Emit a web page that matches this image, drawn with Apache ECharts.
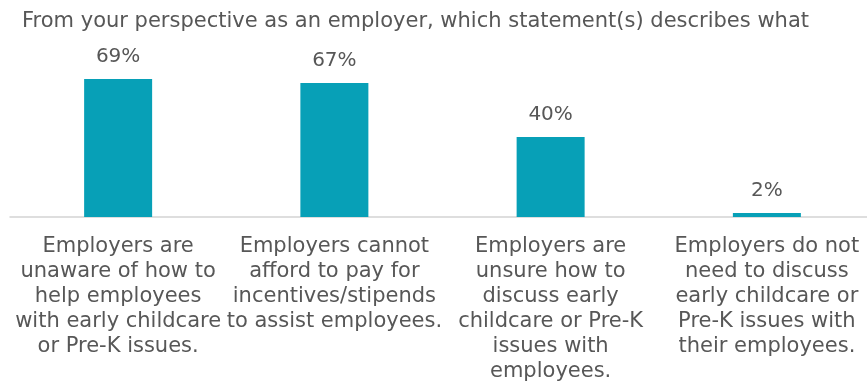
<!DOCTYPE html>
<html>
<head>
<meta charset="utf-8">
<script src="https://cdn.jsdelivr.net/npm/echarts@6/dist/echarts.min.js"></script>
<style>
  html, body { margin: 0; padding: 0; background: #ffffff; overflow: hidden; }
  #chart { width: 875px; height: 386px; }
</style>
</head>
<body>
<div id="chart"></div>
<script>
// Survey responses: share of employers choosing each statement
const titleText = 'From your perspective as an employer, which statement(s) describes what';
const categories = [
  'Employers are\nunaware of how to\nhelp employees\nwith early childcare\nor Pre-K issues.',
  'Employers cannot\nafford to pay for\nincentives/stipends\nto assist employees.',
  'Employers are\nunsure how to\ndiscuss early\nchildcare or Pre-K\nissues with\nemployees.',
  'Employers do not\nneed to discuss\nearly childcare or\nPre-K issues with\ntheir employees.'
];
const percentages = [69, 67, 40, 2];

const FONT = 'DejaVu Sans';
const TEXT_COLOR = '#575757';
const chart = echarts.init(document.getElementById('chart'), null, { renderer: 'canvas' });
chart.setOption({
  animation: false,
  title: {
    text: titleText,
    left: 17,
    top: 6,
    textStyle: { fontFamily: FONT, fontSize: 21, fontWeight: 'normal', color: TEXT_COLOR }
  },
  grid: { left: 10, top: 17, right: 0, height: 200, containLabel: false },
  xAxis: {
    type: 'category',
    data: categories,
    axisLine: { show: true, lineStyle: { color: '#d4d4d4', width: 1.5 } },
    axisTick: { show: false },
    axisLabel: {
      interval: 0,
      margin: 17,
      fontFamily: FONT,
      fontSize: 21,
      lineHeight: 25,
      color: TEXT_COLOR,
      align: 'center'
    }
  },
  yAxis: {
    type: 'value',
    min: 0,
    max: 100,
    show: false,
    splitLine: { show: false }
  },
  series: [{
    type: 'bar',
    data: percentages,
    barWidth: 68,
    itemStyle: { color: '#07a0b7' },
    label: {
      show: true,
      position: 'top',
      distance: 12,
      formatter: p => p.value + '%',
      fontFamily: FONT,
      fontSize: 20,
      color: TEXT_COLOR
    }
  }]
});
</script>
</body>
</html>
